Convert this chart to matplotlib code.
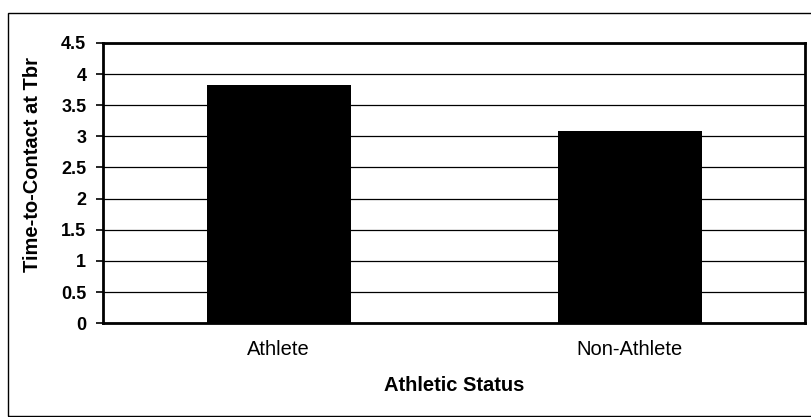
import numpy as np
import matplotlib.pyplot as plt
from matplotlib.patches import Rectangle

# data
categories = ['Athlete', 'Non-Athlete']
contact_time = [3.82, 3.09]
y_ticks = [0, 0.5, 1, 1.5, 2, 2.5, 3, 3.5, 4, 4.5]

plt.rcParams['font.family'] = ['Liberation Sans', 'DejaVu Sans']

fig = plt.figure(figsize=(8.11, 4.17), dpi=100)
ax = fig.add_axes([0.127, 0.225, 0.866, 0.672])

# outer chart frame (right side runs off the picture)
fig.patches.append(Rectangle((0.010, 0.003), 1.2, 0.966, transform=fig.transFigure,
                             fill=False, edgecolor='black', linewidth=1.0))

x = np.arange(len(categories)) + 0.5
ax.bar(x, contact_time, width=0.41, color='black', zorder=3)

ax.set_xlim(0, 2)
ax.set_ylim(0, 4.5)
ax.set_yticks(y_ticks)
ax.set_yticklabels([f'{t:g}' for t in y_ticks], fontsize=13, fontweight='bold')
ax.set_xticks(x)
ax.set_xticklabels(categories, fontsize=14.5)
ax.tick_params(axis='x', length=0, pad=12)
ax.tick_params(axis='y', length=5, width=1.2, direction='out', pad=7)

ax.yaxis.grid(True, color='black', linewidth=0.9)
ax.set_axisbelow(True)
for s in ax.spines.values():
    s.set_linewidth(2)
    s.set_color('black')

ax.set_ylabel('Time-to-Contact at Tbr', fontsize=14.5, fontweight='bold')
ax.yaxis.set_label_coords(-0.087, 0.565)
ax.set_xlabel('Athletic Status', fontsize=14.5, fontweight='bold', labelpad=12)

fig.savefig('out.png', dpi=100)
